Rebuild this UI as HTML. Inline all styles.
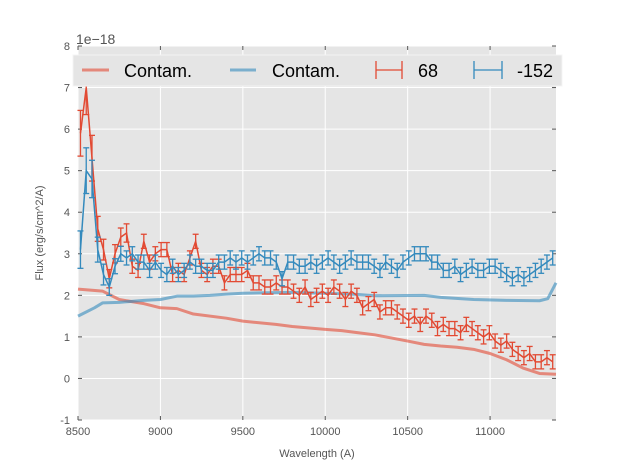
<!DOCTYPE html>
<html><head><meta charset="utf-8"><style>
html,body{margin:0;padding:0;background:#fff;width:617px;height:467px;overflow:hidden}
text{font-family:"Liberation Sans",sans-serif}
</style></head><body>
<svg id="chart" width="617" height="467" xmlns="http://www.w3.org/2000/svg"></svg>
<script>
const xTicks=[8500,9000,9500,10000,10500,11000];
const yTicks=[-1,0,1,2,3,4,5,6,7,8];
const obsStart=8515, obsEnd=11380;
const red68=[5.9,7.0,5.3,3.6,3.1,2.4,3.0,3.4,3.5,2.7,2.6,3.3,2.8,3.0,3.1,3.1,2.5,2.6,2.5,2.9,3.3,2.6,2.5,2.7,2.7,2.3,2.5,2.5,2.5,2.6,2.3,2.3,2.2,2.2,2.3,2.2,2.2,2.1,2.0,2.2,1.9,2.0,2.1,2.0,2.2,2.1,1.9,2.1,2.0,1.7,1.8,1.9,1.6,1.7,1.7,1.6,1.5,1.4,1.5,1.3,1.5,1.4,1.2,1.3,1.2,1.2,1.1,1.3,1.2,1.1,1.0,1.1,0.9,0.8,0.9,0.7,0.6,0.5,0.6,0.4,0.4,0.5,0.4];
const blue152=[3.1,5.0,4.8,3.1,2.5,2.2,2.7,3.0,2.9,3.0,2.8,2.8,2.6,2.8,2.6,2.5,2.7,2.5,2.6,2.8,2.7,2.7,2.6,2.6,2.8,2.8,2.9,2.8,2.9,2.8,2.9,3.0,2.9,2.9,2.8,2.4,2.8,2.8,2.7,2.7,2.8,2.7,2.8,2.9,2.8,2.7,2.8,2.9,2.8,2.8,2.8,2.7,2.6,2.8,2.7,2.6,2.8,2.9,3.0,3.0,3.0,2.8,2.8,2.6,2.6,2.7,2.5,2.6,2.7,2.6,2.6,2.7,2.7,2.6,2.5,2.4,2.5,2.4,2.5,2.6,2.7,2.8,2.9];
const redErr=[0.55,0.65,0.55,0.3,0.25,0.22,0.22,0.22,0.22];
const blueErr=[0.45,0.55,0.45,0.3,0.25,0.2,0.18,0.18];
const contWaves=[8500,8650,8750,8900,9000,9100,9200,9400,9500,9700,9800,10000,10100,10200,10300,10500,10600,10700,10800,10900,11000,11100,11200,11300,11400];
const contRed=[2.15,2.1,1.9,1.8,1.7,1.68,1.55,1.45,1.38,1.3,1.25,1.18,1.15,1.1,1.05,0.9,0.82,0.78,0.75,0.7,0.6,0.45,0.25,0.12,0.1];
const contBWaves=[8500,8600,8650,8750,8900,9000,9100,9200,9300,9400,9500,9600,9800,10000,10200,10300,10600,10700,10900,11100,11300,11350,11400];
const contBlue=[1.5,1.7,1.82,1.83,1.88,1.9,1.98,1.98,2.0,2.03,2.05,2.06,2.07,2.05,2.02,1.99,2.0,1.95,1.9,1.88,1.87,1.92,2.3];

const L=78,R=556,T=46,B=420,xmin=8500,xmax=11400,ymin=-1,ymax=8;
const X=v=>L+(v-xmin)/(xmax-xmin)*(R-L);
const Y=v=>B-(v-ymin)/(ymax-ymin)*(B-T);
const svg=document.getElementById('chart');
const NS='http://www.w3.org/2000/svg';
function mk(tag,attrs,parent){const e=document.createElementNS(NS,tag);for(const k in attrs)e.setAttribute(k,attrs[k]);(parent||svg).appendChild(e);return e;}

const bg=mk('rect',{x:L,y:T,width:R-L,height:B-T,fill:'#e5e5e5'});


const grid=mk('g',{});


xTicks.forEach(t=>{mk('line',{x1:X(t),x2:X(t),y1:T,y2:B,stroke:'#fff','stroke-width':1},grid);});
yTicks.forEach(t=>{mk('line',{x1:L,x2:R,y1:Y(t),y2:Y(t),stroke:'#fff','stroke-width':1},grid);});

const xax=mk('g',{});


xTicks.forEach(t=>{
  mk('line',{x1:X(t),x2:X(t),y1:B,y2:B-4,stroke:'#555'},xax);
  mk('line',{x1:X(t),x2:X(t),y1:T,y2:T+4,stroke:'#555'},xax);
  const tx=mk('text',{x:X(t),y:B+15,'text-anchor':'middle','font-size':11,fill:'#555'},xax);tx.textContent=t;
});
const yax=mk('g',{});


yTicks.forEach(t=>{
  mk('line',{x1:L,x2:L+4,y1:Y(t),y2:Y(t),stroke:'#555'},yax);
  mk('line',{x1:R,x2:R-4,y1:Y(t),y2:Y(t),stroke:'#555'},yax);
  const tx=mk('text',{x:L-8,y:Y(t)+4,'text-anchor':'end','font-size':11,fill:'#555'},yax);tx.textContent=t;
});
const xl=mk('text',{x:(L+R)/2,y:457,'text-anchor':'middle','font-size':11,fill:'#555'});
xl.textContent='Wavelength (A)';


const yl=mk('text',{x:43,y:(T+B)/2,'text-anchor':'middle','font-size':11,fill:'#555',transform:'rotate(-90 43 '+((T+B)/2)+')'});
yl.textContent='Flux (erg/s/cm^2/A)';


const off=mk('text',{x:76,y:44,'font-size':14,fill:'#555'});
off.textContent='1e\u221218';



function contam(ws,vs,color,name){
  const p=mk('polyline',{points:ws.map((w,i)=>X(w)+','+Y(vs[i])).join(' '),fill:'none',stroke:color,'stroke-width':3,'stroke-opacity':0.6,'stroke-linejoin':'round'});
  
  
}
contam(contWaves,contRed,'#E24A33','contam-line-68');
contam(contBWaves,contBlue,'#348ABD','contam-line-152');

function series(vals,errs,color,name){
  const g=mk('g',{});
  
  
  const n=vals.length;
  const wx=i=>obsStart+i*(obsEnd-obsStart)/(n-1);
  vals.forEach((v,i)=>{
    const e=i<errs.length?errs[i]:0.17;
    const x=X(wx(i)),y1=Y(v+e),y2=Y(v-e);
    mk('line',{x1:x,x2:x,y1:y1,y2:y2,stroke:color,'stroke-width':1.3},g);
    mk('line',{x1:x-3,x2:x+3,y1:y1,y2:y1,stroke:color,'stroke-width':1.3},g);
    mk('line',{x1:x-3,x2:x+3,y1:y2,y2:y2,stroke:color,'stroke-width':1.3},g);
  });
  mk('polyline',{points:vals.map((v,i)=>X(wx(i))+','+Y(v)).join(' '),fill:'none',stroke:color,'stroke-width':1.5},g);
}
series(red68,redErr,'#E24A33','series-68');
series(blue152,blueErr,'#348ABD','series-152');

const lg=mk('g',{});


mk('rect',{x:73,y:55,width:489,height:31,fill:'#e5e5e5',stroke:'#f4f4f4','stroke-width':1},lg);
mk('line',{x1:82,x2:109,y1:70,y2:70,stroke:'#E24A33','stroke-opacity':0.6,'stroke-width':3},lg);
mk('line',{x1:230,x2:256,y1:70,y2:70,stroke:'#348ABD','stroke-opacity':0.6,'stroke-width':3},lg);
[[376,402,'#E24A33'],[474,502,'#348ABD']].forEach(([a,b,c])=>{
  mk('line',{x1:a,x2:b,y1:70,y2:70,stroke:c,'stroke-width':1.3},lg);
  mk('line',{x1:a,x2:a,y1:61,y2:79,stroke:c,'stroke-width':1.3},lg);
  mk('line',{x1:b,x2:b,y1:61,y2:79,stroke:c,'stroke-width':1.3},lg);
});
[[124,'Contam.'],[272,'Contam.'],[418,'68'],[517,'-152']].forEach(([x,s])=>{
  const t=mk('text',{x:x,y:77,'font-size':18,fill:'#000'},lg);t.textContent=s;
});
</script>
</body></html>
